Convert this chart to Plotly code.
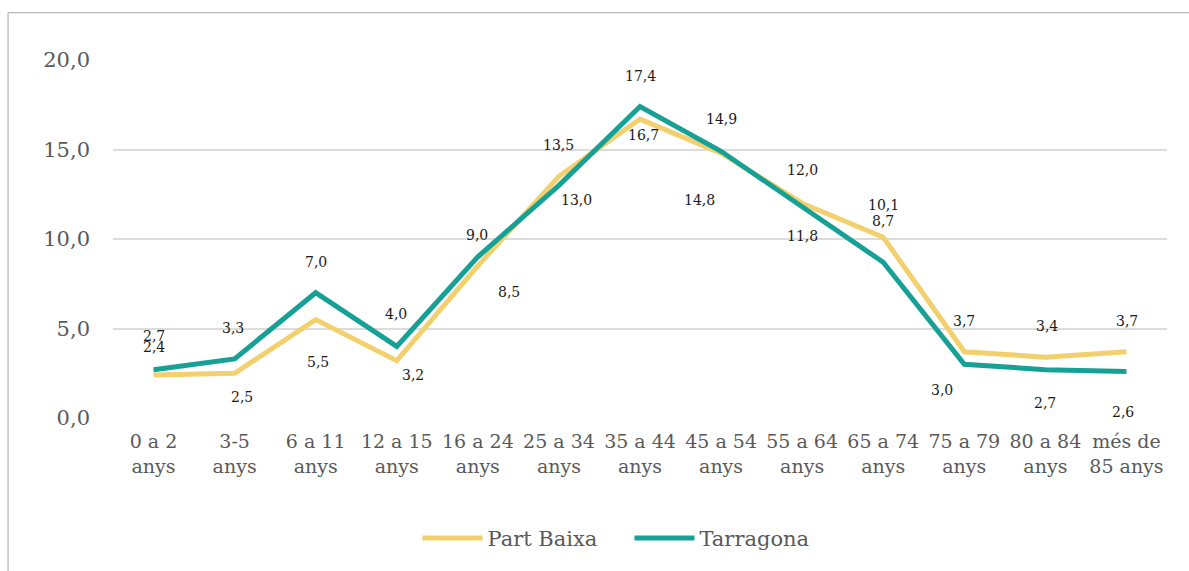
import plotly.graph_objects as go

# Age groups on the x axis
categories = ["0 a 2<br>anys", "3-5<br>anys", "6 a 11<br>anys", "12 a 15<br>anys",
              "16 a 24<br>anys", "25 a 34<br>anys", "35 a 44<br>anys", "45 a 54<br>anys",
              "55 a 64<br>anys", "65 a 74<br>anys", "75 a 79<br>anys", "80 a 84<br>anys",
              "més de<br>85 anys"]

# Share of population by age group (%)
part_baixa = [2.4, 2.5, 5.5, 3.2, 8.5, 13.5, 16.7, 14.8, 12.0, 10.1, 3.7, 3.4, 3.7]
tarragona = [2.7, 3.3, 7.0, 4.0, 9.0, 13.0, 17.4, 14.9, 11.8, 8.7, 3.0, 2.7, 2.6]

# Pixel offsets of each value label relative to its point (dx, dy; up is positive)
pb_label_offsets = [(0, 28), (7, -24), (2, -42), (16, -14), (31, -26), (0, 31), (3, -16),
                    (-22, -47), (0, 33), (0, 32), (0, 31), (2, 31), (1, 31)]
tg_label_offsets = [(0, 34), (-2, 31), (0, 31), (-1, 32), (-1, 22), (18, -15), (0, 31),
                    (0, 32), (0, -29), (0, 41), (-22, -26), (0, -33), (-3, -41)]

YELLOW = "#F3D06E"
TEAL = "#16A096"
SERIF = "DejaVu Serif"

fig = go.Figure()
fig.add_trace(go.Scatter(x=categories, y=part_baixa, name="Part Baixa", mode="lines",
                         line=dict(color=YELLOW, width=5)))
fig.add_trace(go.Scatter(x=categories, y=tarragona, name="Tarragona", mode="lines",
                         line=dict(color=TEAL, width=5)))


def fmt(v):
    return f"{v:.1f}".replace(".", ",")


for series, offsets in ((part_baixa, pb_label_offsets), (tarragona, tg_label_offsets)):
    for cat, val, (dx, dy) in zip(categories, series, offsets):
        fig.add_annotation(x=cat, y=val, text=fmt(val), showarrow=False,
                           xshift=dx, yshift=dy,
                           font=dict(family=SERIF, size=14, color="#1a1a1a"))

# outer frame of the chart area
fig.add_shape(type="rect", xref="paper", yref="paper",
              x0=-0.0996, x1=1.2, y0=-0.6, y1=1.132,
              line=dict(color="#a6a6a6", width=1), fillcolor="rgba(0,0,0,0)", layer="below")

fig.update_layout(
    width=1189, height=571,
    margin=dict(l=113, r=22, t=60, b=148),
    paper_bgcolor="white", plot_bgcolor="white",
    separators=", ",
    showlegend=True,
    legend=dict(orientation="h", x=0.49, xanchor="center", y=-0.336, yanchor="middle",
                font=dict(family=SERIF, size=21, color="#595959"),
                entrywidth=137, itemwidth=60, tracegroupgap=0),
    font=dict(family=SERIF, color="#595959"),
)
fig.update_xaxes(showgrid=False, showline=False, zeroline=False, ticks="",
                 range=[-0.5, len(categories) - 0.5],
                 tickfont=dict(family=SERIF, size=19, color="#595959"),
                 ticklabelstandoff=10)
fig.update_yaxes(range=[0, 20], tickvals=[0, 5, 10, 15, 20], tickformat=".1f",
                 showgrid=True, gridcolor="#dcdcdc", gridwidth=1.5,
                 zeroline=False, showline=False, ticks="",
                 tickfont=dict(family=SERIF, size=21, color="#595959"),
                 ticklabelstandoff=22)

fig.write_html("out.html")
